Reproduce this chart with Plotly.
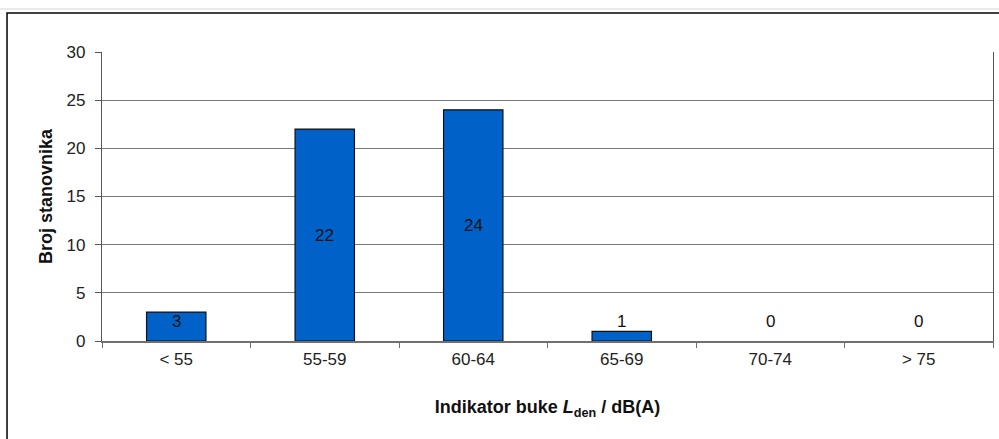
import plotly.graph_objects as go

categories = ["< 55", "55-59", "60-64", "65-69", "70-74", "> 75"]
residents = [3, 22, 24, 1, 0, 0]

# label y (data units): centre of bar, but never below the low-value band
label_y = [max(v / 2, 2.0) for v in residents]
# zero-height bars get no outline
outline_w = [1.2 if v > 0 else 0 for v in residents]

fig = go.Figure()
fig.add_trace(go.Bar(
    x=categories,
    y=residents,
    width=0.4,
    marker=dict(color="#0061C9", line=dict(color="#111111", width=outline_w)),
    hoverinfo="x+y",
))

for cat, v, ly in zip(categories, residents, label_y):
    fig.add_annotation(x=cat, y=ly, text=str(v), showarrow=False,
                       font=dict(family="Liberation Sans, Arial", size=17, color="#111111"))

# outer frame of the embedded picture
fig.add_shape(type="rect", xref="paper", yref="paper",
              x0=-0.1066, x1=1.03, y0=-0.40, y1=1.135,
              line=dict(color="#000000", width=1.5), layer="below")
fig.add_shape(type="line", xref="paper", yref="paper",
              x0=-0.12, x1=1.03, y0=1.149, y1=1.149,
              line=dict(color="#e4e4e4", width=1.5))

fig.update_layout(
    width=999, height=439,
    margin=dict(l=102, r=6, t=52, b=98),
    plot_bgcolor="white", paper_bgcolor="white",
    font=dict(family="Liberation Sans, Arial", size=17, color="#222222"),
    showlegend=False,
    bargap=0.6,
)
fig.update_xaxes(
    automargin=False,
    tickson="boundaries", ticks="outside", ticklen=5, tickcolor="#707070",
    showline=True, linecolor="#707070", linewidth=1.5,
    showgrid=False, mirror=False, ticklabelstandoff=2,
    title=dict(text="<b>Indikator buke <i>L</i><sub>den</sub> / dB(A)</b>",
               font=dict(size=18, color="#111111"), standoff=32),
)
fig.update_yaxes(
    automargin=False,
    range=[0, 30], dtick=5, ticks="outside", ticklen=6, tickcolor="#555555",
    showline=True, linecolor="#555555", linewidth=1.2, mirror=True,
    showgrid=True, gridcolor="#7a7a7a", gridwidth=1.2, zeroline=False,
    ticklabelstandoff=6,
    title=dict(text="<b>Broj stanovnika</b>", font=dict(size=18, color="#111111"), standoff=9),
)

fig.write_html("out.html", config={"displayModeBar": False},
               post_script="document.body.style.margin='0';")
